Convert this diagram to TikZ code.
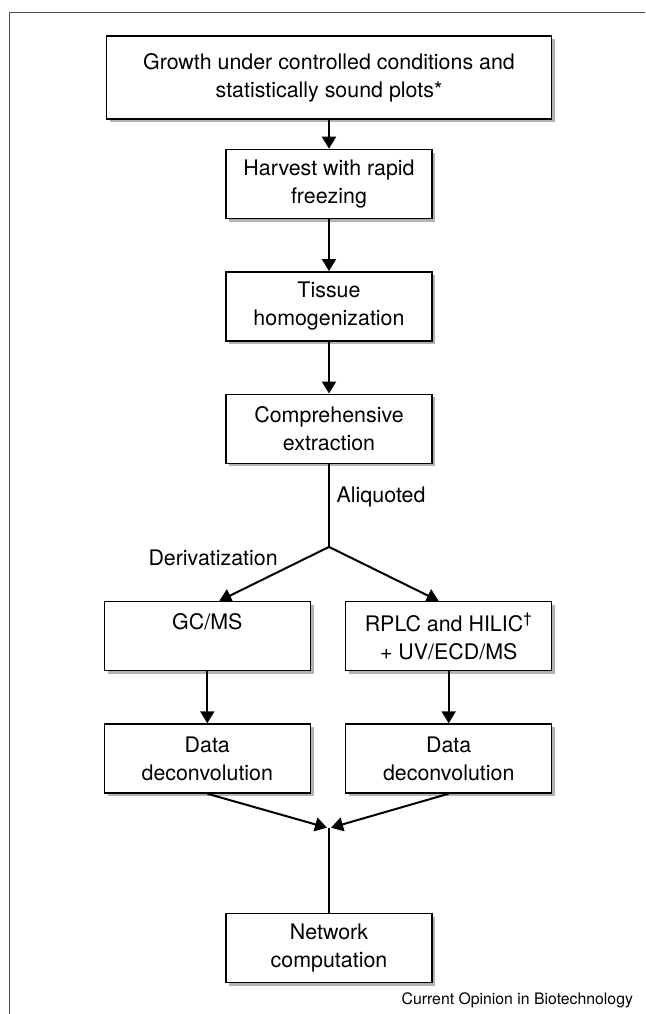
\documentclass[tikz,border=0pt]{standalone}
\usepackage{fontspec}
\setmainfont{TeX Gyre Heros}
\usepackage{tikz}
\usetikzlibrary{positioning, arrows.meta, shadows}
\tikzstyle{stage} = [rectangle, minimum width=103pt, minimum height=34.5pt, text centered, align=center, draw=black, line width=0.7pt, fill=white, drop shadow={shadow xshift=1.6pt, shadow yshift=-1.6pt, fill=black!30, opacity=1}, font=\fontsize{10.7}{14}\selectfont]
\tikzstyle{arrow} = [line width=1pt, -{Triangle[length=6pt,width=7pt]}]
\tikzstyle{link} = [line width=1pt]
\tikzstyle{note} = [font=\fontsize{10.7}{14}\selectfont]

\begin{document}
\begin{tikzpicture}[x=0.5pt, y=-0.5pt, node distance=26pt]
\useasboundingbox (0,0) rectangle (645,1014);
\draw[black!70, line width=0.5pt] (9,1014) -- (9,12) -- (645,12);

\node[stage, minimum width=222.5pt, minimum height=41.5pt] (growth) at (329,77.5) {Growth under controlled conditions and\\statistically sound plots*};
\node[stage, below=14.5pt of growth] (harvest) {Harvest with rapid\\freezing};
\node[stage, below=of harvest] (tissue) {Tissue\\homogenization};
\node[stage, below=of tissue] (extract) {Comprehensive\\extraction};
\coordinate[below=41.5pt of extract] (split);
\node[stage, below left=27pt and 9pt of split] (gcms) {GC/MS\\\phantom{G}};
\node[stage, below right=27pt and 8pt of split] (lcms) {RPLC and HILIC\textsuperscript{\dag}\\+ UV/ECD/MS};
\node[stage, below=of gcms] (deconvl) {Data\\deconvolution};
\node[stage, below=of lcms] (deconvr) {Data\\deconvolution};
\path (split |- deconvl.south) ++(0,34) coordinate (merge);
\node[stage, below=42.5pt of merge] (network) {Network\\computation};
\node[anchor=east, font=\fontsize{7.9}{10}\selectfont] (credit) at (640,1000) {Current Opinion in Biotechnology};

\draw[arrow] (growth) -- (harvest);
\draw[arrow] (harvest) -- (tissue);
\draw[arrow] (tissue) -- (extract);
\draw[link] (extract) -- node[note, pos=0.4, right] (aliq) {Aliquoted} (split);
\draw[arrow] (split) -- node[note, pos=0.43, above left=-2.5pt] (deriv) {Derivatization} ([xshift=6pt]gcms.north);
\draw[arrow] (split) -- ([xshift=-5pt]lcms.north);
\draw[arrow] (gcms) -- (deconvl);
\draw[arrow] (lcms) -- (deconvr);
\draw[arrow] (deconvl.south) -- ([xshift=-1pt]merge);
\draw[arrow] (deconvr.south) -- ([xshift=1pt]merge);
\draw[link] (merge) -- (network);
\end{tikzpicture}
\end{document}
